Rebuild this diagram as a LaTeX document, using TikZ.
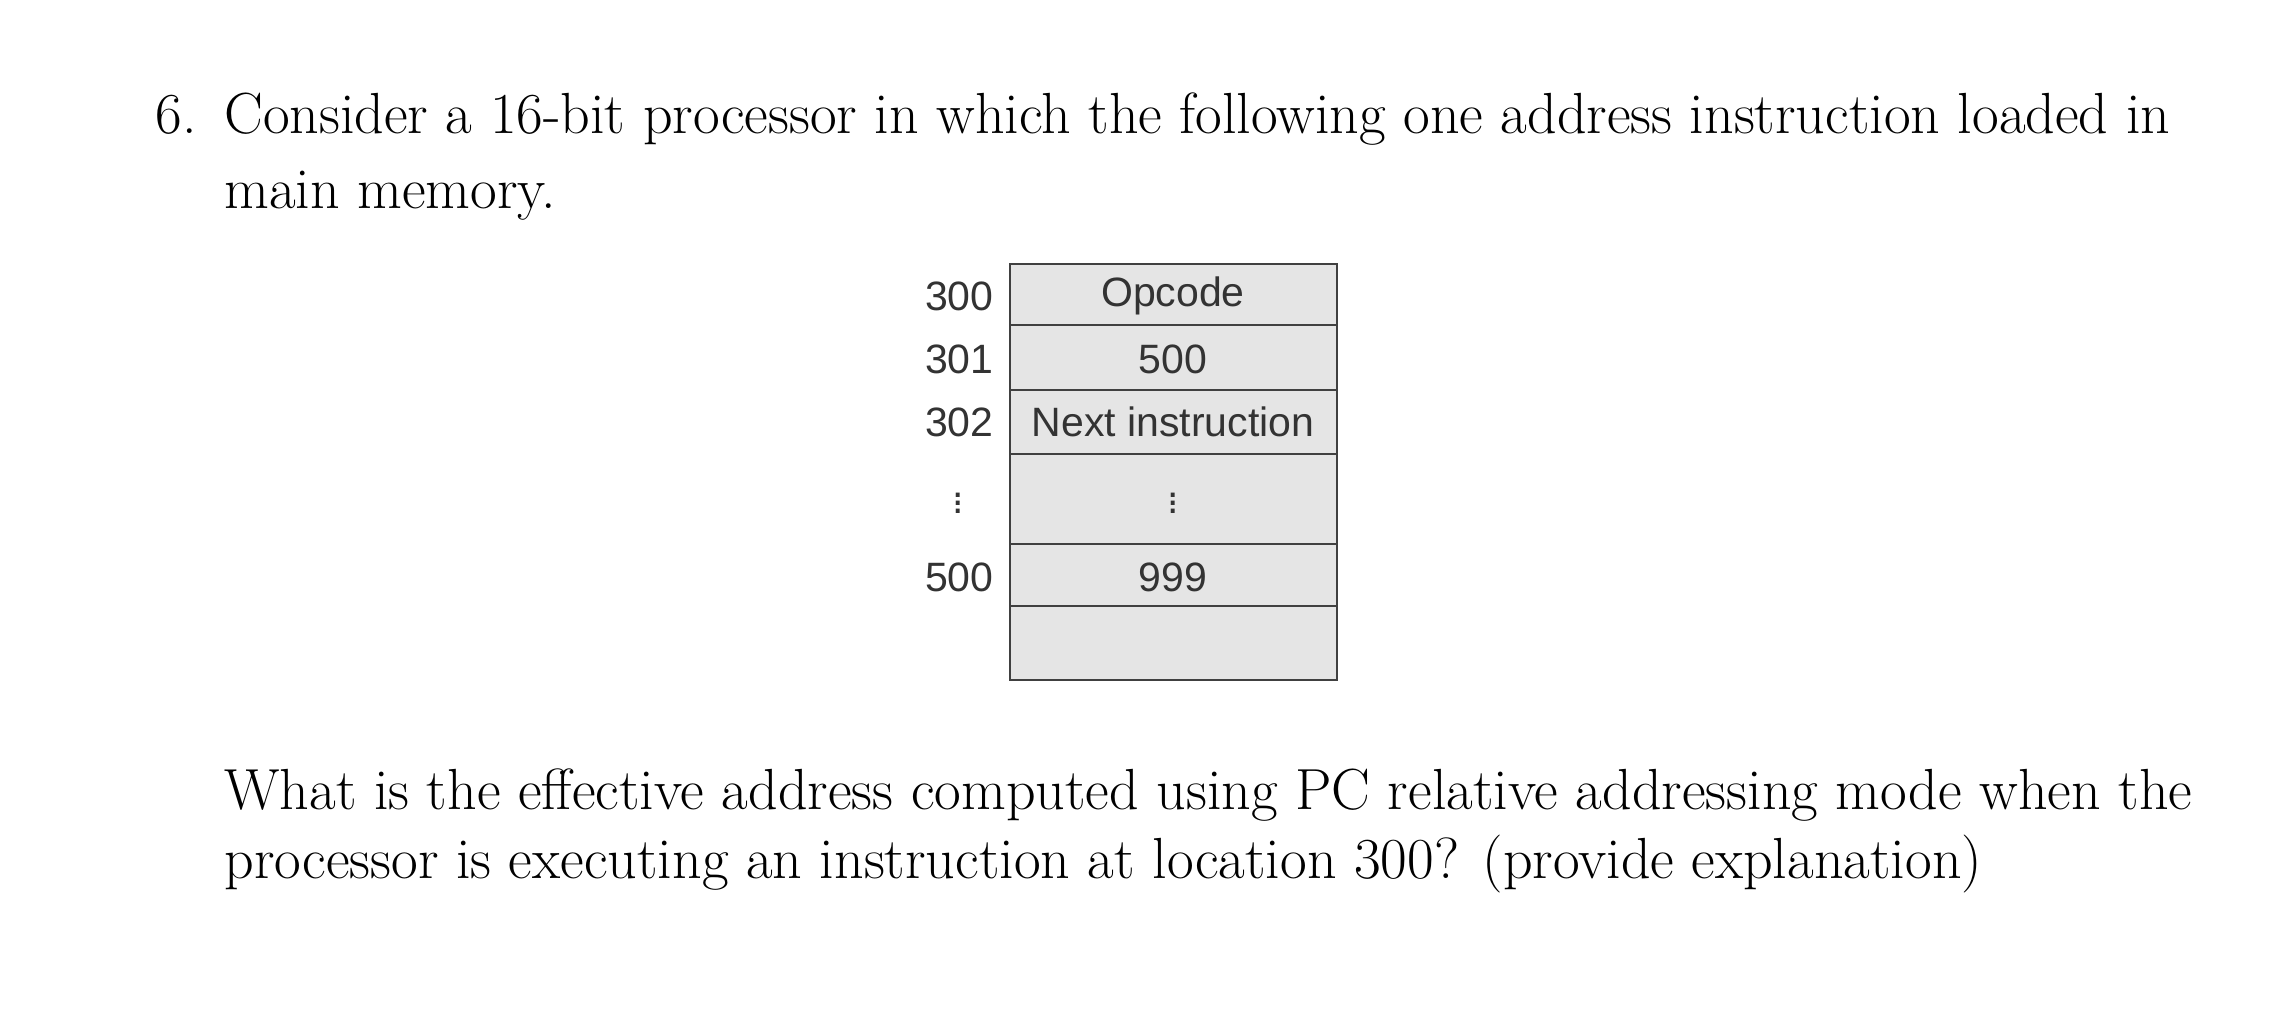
\documentclass[tikz,border=0pt]{standalone}
\usepackage{fontspec}
\newfontfamily\arialf{Liberation Sans}
\begin{document}
\begin{tikzpicture}[x=0.5pt,y=-0.5pt,
  ptext/.style={anchor=base west,inner sep=0pt,font=\fontsize{29}{35}\selectfont},
  cell/.style={draw=black!75,line width=1.2pt,fill=black!10},
  ctext/.style={inner sep=0pt,font=\arialf\fontsize{20.5}{22}\selectfont,text=black!80},
  ltext/.style={anchor=east,inner sep=0pt,font=\arialf\fontsize{20.5}{22}\selectfont,text=black!80}]
\useasboundingbox (0,0) rectangle (2272,1012);
\node[ptext] (n6) at (155,133) {6.};
\node[ptext] (l1) at (224,133) {Consider a 16-bit processor in which the following one address instruction loaded in};
\node[ptext] (l2) at (224,208) {main memory.};
\node[ptext] (l3) at (224,809) {What is the effective address computed using PC relative addressing mode when the};
\node[ptext] (l4) at (224,878) {processor is executing an instruction at location 300? (provide explanation)};
% cells
\draw[cell] (1010,264) rectangle (1337,325);
\draw[cell] (1010,325) rectangle (1337,390);
\draw[cell] (1010,390) rectangle (1337,454);
\draw[cell] (1010,454) rectangle (1337,544);
\draw[cell] (1010,544) rectangle (1337,606);
\draw[cell] (1010,606) rectangle (1337,680);
\node[ctext] (c1) at (1173,296) {Opcode};
\node[ctext] (c2) at (1173,359) {500};
\node[ctext] (c3) at (1173,422) {Next instruction};
\node[ctext] (c4) at (1173,497) {$\vdots$};
\node[ctext] (c5) at (1173,577) {999};
\node[ltext] (a1) at (994,296) {300};
\node[ltext] (a2) at (994,359) {301};
\node[ltext] (a3) at (994,422) {302};
\node[ctext] (a4) at (958,497) {$\vdots$};
\node[ltext] (a5) at (994,577) {500};
\end{tikzpicture}
\end{document}
